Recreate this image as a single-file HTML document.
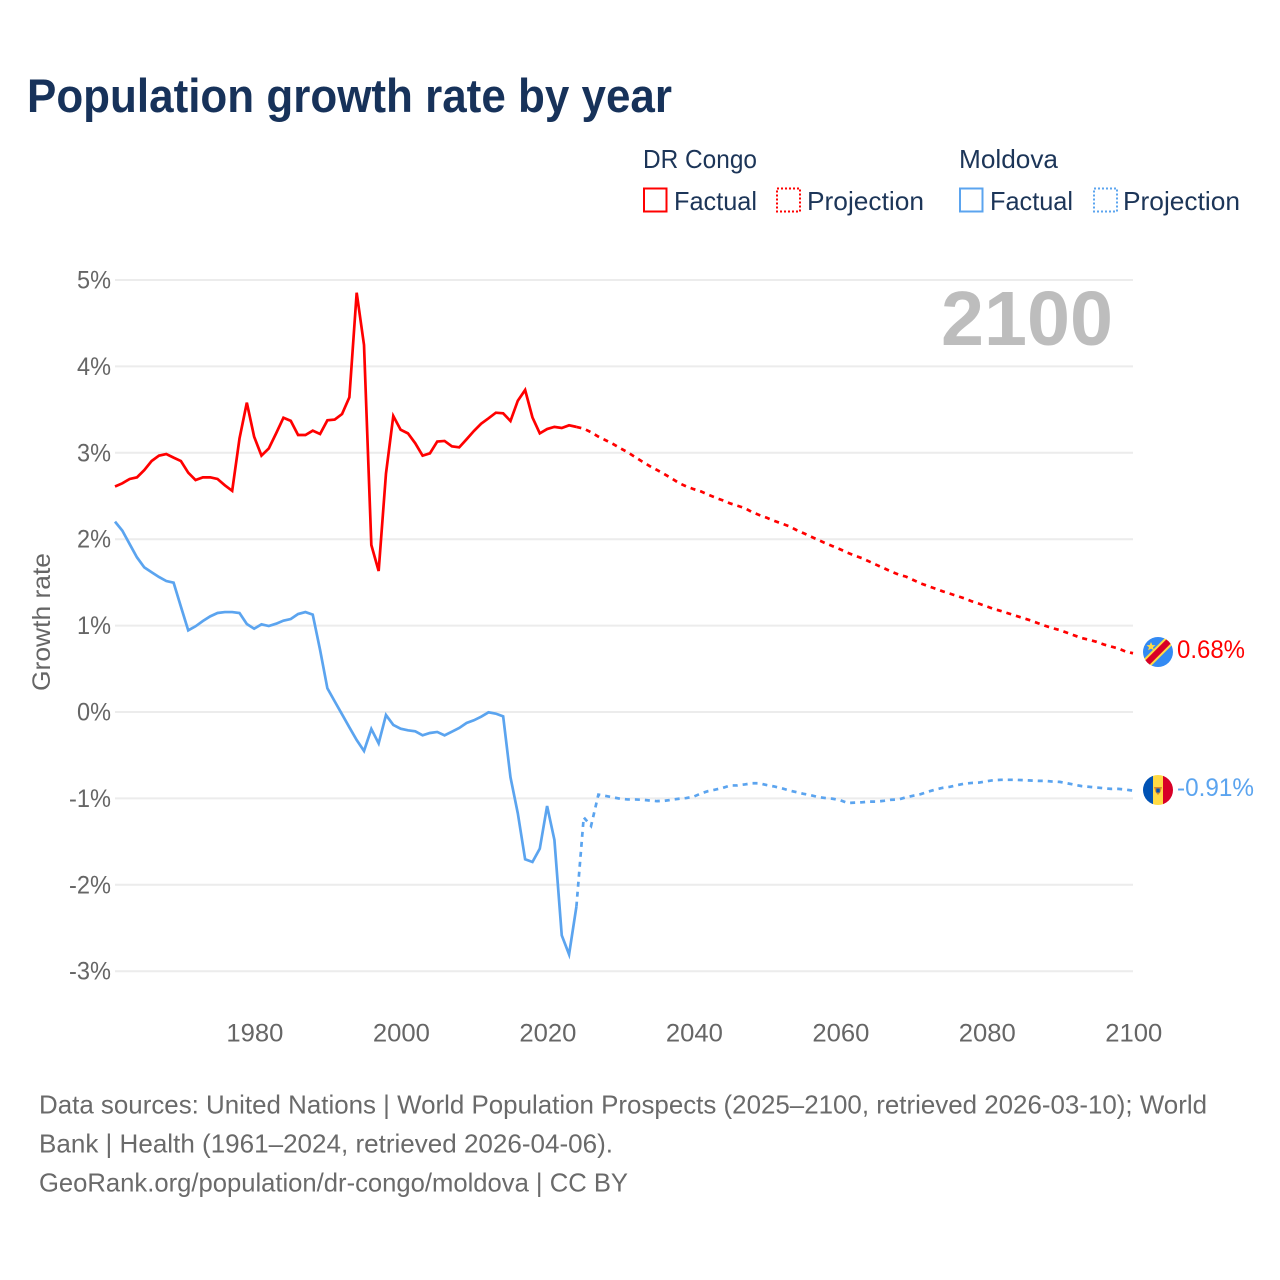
<!DOCTYPE html>
<html lang="en">
<head>
<meta charset="utf-8">
<title>Population growth rate by year</title>
<style>
  html, body { margin: 0; padding: 0; background: #fff; }
  svg { display: block; font-family: "Liberation Sans", sans-serif; }
</style>
</head>
<body>
<svg id="chart" xmlns="http://www.w3.org/2000/svg" width="1280" height="1280" viewBox="0 0 1280 1280">
  <rect x="0" y="0" width="1280" height="1280" fill="#ffffff"/>
  <text x="27" y="112" font-size="47" font-weight="700" fill="#17325a" textLength="645" lengthAdjust="spacingAndGlyphs">Population growth rate by year</text>

  <g font-size="26" fill="#1c3558">
    <text x="643" y="168" textLength="114" lengthAdjust="spacingAndGlyphs">DR Congo</text>
    <text x="959" y="168" textLength="99" lengthAdjust="spacingAndGlyphs">Moldova</text>
    <g>
      <rect x="644" y="188.5" width="22.5" height="23" fill="none" stroke="#ff0000" stroke-width="2"/>
      <text x="674" y="210" textLength="83" lengthAdjust="spacingAndGlyphs">Factual</text>
    </g>
    <g>
      <rect x="777" y="188.5" width="23" height="23" fill="none" stroke="#ff0000" stroke-width="2" stroke-dasharray="2 2"/>
      <text x="807" y="210" textLength="117" lengthAdjust="spacingAndGlyphs">Projection</text>
    </g>
    <g>
      <rect x="960" y="188.5" width="22.5" height="23" fill="none" stroke="#5ba4ef" stroke-width="2"/>
      <text x="990" y="210" textLength="83" lengthAdjust="spacingAndGlyphs">Factual</text>
    </g>
    <g>
      <rect x="1094" y="188.5" width="23" height="23" fill="none" stroke="#5ba4ef" stroke-width="2" stroke-dasharray="2 2"/>
      <text x="1123" y="210" textLength="117" lengthAdjust="spacingAndGlyphs">Projection</text>
    </g>
  </g>

  <g id="grid"></g>
  <g id="yticks"></g>
  <g id="xticks"></g>

  <text transform="translate(50,622) rotate(-90)" text-anchor="middle" font-size="25" fill="#666666" textLength="138" lengthAdjust="spacingAndGlyphs">Growth rate</text>

  <text x="941" y="345" font-size="77" font-weight="700" fill="#bdbdbd" textLength="172" lengthAdjust="spacingAndGlyphs">2100</text>

  <g id="series"></g>

  <g>
    <clipPath id="clip-cd"><circle cx="1158" cy="652" r="15"/></clipPath>
    <g clip-path="url(#clip-cd)">
      <rect x="1143" y="637" width="30" height="30" fill="#338af3"/>
      <line x1="1141" y1="669" x2="1175" y2="635" stroke="#ffda44" stroke-width="10"/>
      <line x1="1141" y1="669" x2="1175" y2="635" stroke="#d80027" stroke-width="6"/>
    </g>
    <polygon points="1151,642 1152.3,645 1155.5,645.2 1153,647.2 1153.9,650.3 1151,648.6 1148.1,650.3 1149,647.2 1146.5,645.2 1149.7,645" fill="#ffda44"/>
  </g>
  <text id="label-cd" x="1177" y="658" font-size="25" fill="#ff0000" textLength="68" lengthAdjust="spacingAndGlyphs">0.68%</text>

  <g>
    <clipPath id="clip-md"><circle cx="1158" cy="790" r="15"/></clipPath>
    <g clip-path="url(#clip-md)">
      <rect x="1143" y="775" width="10" height="30" fill="#0052b4"/>
      <rect x="1153" y="775" width="10" height="30" fill="#ffda44"/>
      <rect x="1163" y="775" width="10" height="30" fill="#d80027"/>
      <polygon points="1154,787 1162,787 1160.5,792 1158,795 1155.5,792" fill="#d8862a"/>
      <rect x="1156.3" y="788.5" width="3.4" height="4" fill="#0052b4"/>
    </g>
  </g>
  <text id="label-md" x="1177" y="796" font-size="25" fill="#5ba4ef" textLength="77" lengthAdjust="spacingAndGlyphs">-0.91%</text>

  <g font-size="26" fill="#6a6a6a">
    <text x="39" y="1113.5" textLength="1168" lengthAdjust="spacingAndGlyphs">Data sources: United Nations | World Population Prospects (2025–2100, retrieved 2026-03-10); World</text>
    <text x="39" y="1152.5" textLength="574" lengthAdjust="spacingAndGlyphs">Bank | Health (1961–2024, retrieved 2026-04-06).</text>
    <text x="39" y="1191.5" textLength="589" lengthAdjust="spacingAndGlyphs">GeoRank.org/population/dr-congo/moldova | CC BY</text>
  </g>
</svg>

<script>
const yTickValues = [5, 4, 3, 2, 1, 0, -1, -2, -3];
const yTickLabels = ["5%", "4%", "3%", "2%", "1%", "0%", "-1%", "-2%", "-3%"];
const xTickYears = [1980, 2000, 2020, 2040, 2060, 2080, 2100];
const xTickLabels = ["1980", "2000", "2020", "2040", "2060", "2080", "2100"];

const factualStartYear = 1961;
const projectionStartYear = 2024;

const congoFactual = [2.61,2.647,2.697,2.716,2.80,2.905,2.967,2.986,2.944,2.905,2.77,2.685,2.716,2.716,2.697,2.624,2.56,3.165,3.58,3.186,2.967,3.05,3.225,3.406,3.37,3.206,3.206,3.256,3.218,3.376,3.384,3.449,3.642,4.853,4.248,1.933,1.632,2.76,3.426,3.267,3.225,3.11,2.967,2.994,3.13,3.137,3.075,3.063,3.156,3.252,3.337,3.399,3.464,3.457,3.368,3.603,3.727,3.41,3.225,3.275,3.30,3.287,3.318,3.30];

const congoProjection = [3.30,3.280,3.238,3.187,3.145,3.102,3.052,3.006,2.952,2.898,2.847,2.801,2.754,2.704,2.650,2.611,2.580,2.553,2.515,2.480,2.449,2.414,2.387,2.360,2.313,2.279,2.248,2.213,2.182,2.151,2.108,2.070,2.031,1.992,1.954,1.919,1.884,1.845,1.810,1.780,1.741,1.702,1.664,1.625,1.590,1.567,1.528,1.489,1.458,1.428,1.397,1.370,1.342,1.315,1.281,1.253,1.223,1.192,1.168,1.141,1.114,1.087,1.060,1.029,0.998,0.971,0.948,0.917,0.886,0.855,0.836,0.813,0.782,0.758,0.735,0.70,0.68];

const moldovaFactual = [2.203,2.099,1.944,1.790,1.674,1.617,1.563,1.516,1.497,1.219,0.945,0.992,1.053,1.107,1.146,1.157,1.157,1.146,1.019,0.964,1.015,0.995,1.022,1.057,1.076,1.134,1.157,1.127,0.72,0.274,0.123,-0.027,-0.177,-0.324,-0.451,-0.197,-0.363,-0.035,-0.150,-0.193,-0.212,-0.224,-0.27,-0.243,-0.231,-0.27,-0.228,-0.185,-0.127,-0.096,-0.054,-0.004,-0.019,-0.05,-0.756,-1.173,-1.705,-1.736,-1.582,-1.088,-1.481,-2.585,-2.805,-2.253];

const moldovaProjection = [-2.253,-1.219,-1.319,-0.957,-0.972,-0.988,-1.004,-1.012,-1.012,-1.016,-1.024,-1.032,-1.028,-1.016,-1.004,-0.996,-0.98,-0.943,-0.915,-0.898,-0.878,-0.85,-0.85,-0.838,-0.825,-0.825,-0.846,-0.862,-0.882,-0.907,-0.927,-0.947,-0.963,-0.984,-0.996,-1.004,-1.02,-1.053,-1.049,-1.045,-1.037,-1.037,-1.028,-1.016,-1.012,-0.988,-0.968,-0.951,-0.923,-0.898,-0.878,-0.866,-0.846,-0.829,-0.821,-0.817,-0.801,-0.789,-0.785,-0.785,-0.785,-0.789,-0.793,-0.797,-0.797,-0.805,-0.809,-0.825,-0.842,-0.858,-0.866,-0.874,-0.882,-0.89,-0.89,-0.898,-0.91];

const SVG_NS = "http://www.w3.org/2000/svg";
const plotLeft = 115, plotRight = 1133;
const firstYear = 1961, lastYear = 2100;
const xScale = year => plotLeft + (year - firstYear) * (plotRight - plotLeft) / (lastYear - firstYear);
const yScale = value => 712 - value * 86.4;

function make(tag, attrs, parent) {
  const el = document.createElementNS(SVG_NS, tag);
  for (const key in attrs) el.setAttribute(key, attrs[key]);
  parent.appendChild(el);
  return el;
}

const gridGroup = document.getElementById("grid");
const yTickGroup = document.getElementById("yticks");
const xTickGroup = document.getElementById("xticks");
const seriesGroup = document.getElementById("series");

yTickValues.forEach((value, i) => {
  const y = yScale(value);
  const line = make("line", { x1: plotLeft, x2: plotRight, y1: y, y2: y, stroke: "#ececec", "stroke-width": 2 }, gridGroup);
  
  
  const label = make("text", {
    x: 111, y: y + 8.5, "text-anchor": "end", "font-size": 25, fill: "#666666",
    textLength: yTickLabels[i].charAt(0) === "-" ? 42 : 34, lengthAdjust: "spacingAndGlyphs"
  }, yTickGroup);
  
  
  label.textContent = yTickLabels[i];
});

xTickYears.forEach((year, i) => {
  const label = make("text", {
    x: xScale(year) + 0.8, y: 1041.5, "text-anchor": "middle", "font-size": 25, fill: "#666666",
    textLength: 57, lengthAdjust: "spacingAndGlyphs"
  }, xTickGroup);
  
  
  label.textContent = xTickLabels[i];
});

function drawSeries(values, startYear, color, dash, name) {
  const d = values.map((v, i) => (i ? "L" : "M") + xScale(startYear + i).toFixed(2) + " " + yScale(v).toFixed(2)).join("");
  const attrs = { d: d, fill: "none", stroke: color, "stroke-width": 2.7, "stroke-linejoin": "miter" };
  if (dash) attrs["stroke-dasharray"] = dash;
  const path = make("path", attrs, seriesGroup);
  
  
}

drawSeries(congoFactual, factualStartYear, "#ff0000", null, "line-dr-congo-factual");
drawSeries(congoProjection, projectionStartYear, "#ff0000", "5 5", "line-dr-congo-projection");
drawSeries(moldovaFactual, factualStartYear, "#5ba4ef", null, "line-moldova-factual");
drawSeries(moldovaProjection, projectionStartYear, "#5ba4ef", "5 5", "line-moldova-projection");
</script>
</body>
</html>
